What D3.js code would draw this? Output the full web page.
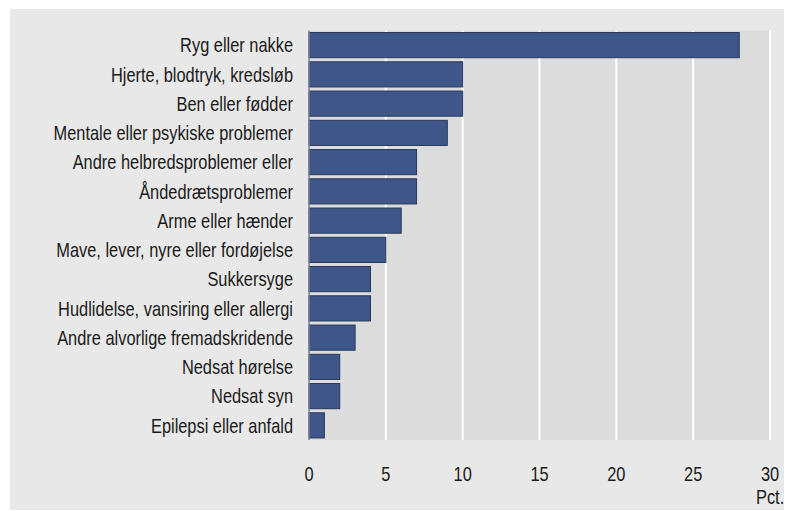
<!DOCTYPE html>
<html lang="da">
<head>
  <meta charset="UTF-8">
  <title>Helbredsproblemer</title>
  <script src="https://d3js.org/d3.v7.min.js"></script>
  <style>
    body, html { margin: 0; padding: 0; background: #fff; overflow: hidden; }
    svg { display: block; }
    text { font-family: "Liberation Sans", Arial, sans-serif; font-size: 20px; fill: #1a1a1a; }
  </style>
</head>
<body>
  <div id="chart"></div>
  <script>
    // Data
    const categories = [
      'Ryg eller nakke',
      'Hjerte, blodtryk, kredsløb',
      'Ben eller fødder',
      'Mentale eller psykiske problemer',
      'Andre helbredsproblemer eller',
      'Åndedrætsproblemer',
      'Arme eller hænder',
      'Mave, lever, nyre eller fordøjelse',
      'Sukkersyge',
      'Hudlidelse, vansiring eller allergi',
      'Andre alvorlige fremadskridende',
      'Nedsat hørelse',
      'Nedsat syn',
      'Epilepsi eller anfald'
    ];
    const values = [28, 10, 10, 9, 7, 7, 6, 5, 4, 4, 3, 2, 2, 1];
    const xTicks = [0, 5, 10, 15, 20, 25, 30];
    const unitLabel = 'Pct.';

    const width = 785, height = 511;
    const plot = { left: 309, right: 770, top: 30.5, bottom: 440 };
    const narrow = 0.82; // condensed look, fake it with a horizontal squeeze

    const svg = d3.select('#chart').append('svg')
      .attr('width', width)
      .attr('height', height);

    // outer panel
    svg.append('rect')
      .attr('x', 10).attr('y', 9)
      .attr('width', 774).attr('height', 501)
      .attr('fill', '#e8e8e8');

    const x = d3.scaleLinear().domain([0, 30]).range([plot.left, plot.right]);
    const y = d3.scaleBand().domain(categories).range([plot.top, plot.bottom]).paddingInner(0.14).paddingOuter(0.07);

    // plot background
    svg.append('rect')
      .attr('x', plot.left).attr('y', plot.top)
      .attr('width', plot.right - plot.left).attr('height', plot.bottom - plot.top)
      .attr('fill', '#dcdcdc');

    // gridlines
    svg.append('g')
      .selectAll('line')
      .data(xTicks.filter(d => d > 0))
      .join('line')
      .attr('x1', d => x(d)).attr('x2', d => x(d))
      .attr('y1', plot.top).attr('y2', plot.bottom)
      .attr('stroke', '#fff')
      .attr('stroke-width', 2);

    // bars
    svg.append('g')
      .selectAll('rect')
      .data(values)
      .join('rect')
      .attr('x', x(0))
      .attr('y', (d, i) => y(categories[i]))
      .attr('width', d => x(d) - x(0))
      .attr('height', y.bandwidth())
      .attr('fill', '#3f5788')
      .attr('stroke', '#27375a')
      .attr('stroke-width', 1);

    // y axis line
    svg.append('line')
      .attr('x1', x(0)).attr('x2', x(0))
      .attr('y1', plot.top).attr('y2', plot.bottom)
      .attr('stroke', '#7a8296')
      .attr('stroke-width', 1.5);

    // category labels
    svg.append('g')
      .selectAll('text')
      .data(categories)
      .join('text')
      .attr('transform', d => `translate(${x(0) - 16},${y(d) + y.bandwidth() / 2}) scale(${narrow},1)`)
      .attr('dy', '0.36em')
      .attr('text-anchor', 'end')
      .text(d => d);

    // x tick labels
    svg.append('g')
      .selectAll('text')
      .data(xTicks)
      .join('text')
      .attr('transform', d => `translate(${x(d)},480.5) scale(${narrow},1)`)
      .attr('text-anchor', 'middle')
      .text(d => d);

    svg.append('text')
      .attr('transform', `translate(756,504) scale(${narrow},1)`)
      .text(unitLabel);
  </script>
</body>
</html>
